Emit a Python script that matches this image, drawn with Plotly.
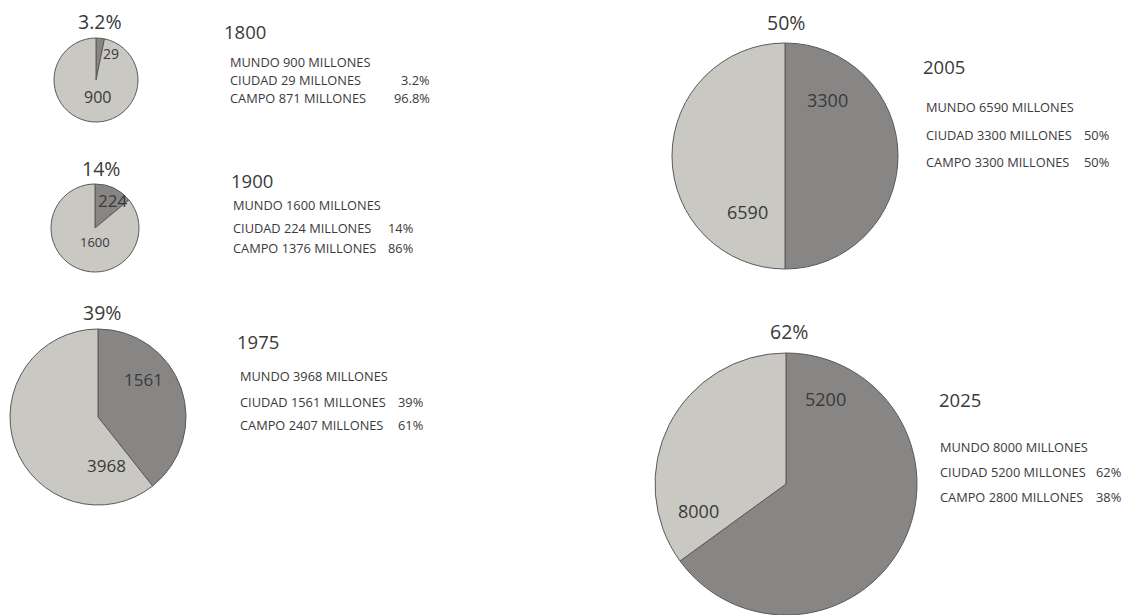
import plotly.graph_objects as go

# ---------------- data ----------------
years = ["1800", "1900", "1975", "2005", "2025"]
mundo = [900, 1600, 3968, 6590, 8000]
ciudad = [29, 224, 1561, 3300, 5200]
campo = [871, 1376, 2407, 3300, 2800]
pct_ciudad = ["3.2%", "14%", "39%", "50%", "62%"]
pct_campo = ["96.8%", "86%", "61%", "50%", "38%"]

# ---------------- layout / style (pixels) ----------------
W, H = 1128, 615
PIE_GEOM = [(96, 80, 42), (95, 228, 44), (98, 417, 88), (785, 156, 113), (786, 484, 131)]
PCT_POS = [(100, 22), (101, 168), (102, 312), (786, 23), (789, 331)]
CITY_LBL = [(111, 54), (112, 200), (143, 379), (827, 100), (825, 399)]
WORLD_LBL = [(97, 97), (95, 242), (106, 465), (747, 212), (698, 511)]
CITY_FONT = [14, 17, 17, 18, 18]
WORLD_FONT = [16, 13, 17, 18, 18]
YEAR_POS = [(222, 32), (229, 180), (235, 341), (921, 67), (937, 399)]
LINES_X = [228, 231, 238, 924, 938]
LINES_Y = [(62, 80, 98), (205, 228, 248), (376, 402, 425), (107, 135, 162), (447, 472, 497)]
PCT_RIGHT = [432, 415, 425, 1111, 1123]
LINE_FONT = 12.8

DARK = "#878685"
LIGHT = "#c9c8c3"
EDGE = "#5a5a5a"
TXT = "#3a3a3a"
FONT = "Open Sans"


def px(x):
    return x / W


def py(y):
    return 1 - y / H


fig = go.Figure()
annotations = []


def ann(x, y, text, size, xanchor="center", color=TXT):
    annotations.append(dict(
        x=px(x), y=py(y), xref="paper", yref="paper", text=text,
        showarrow=False, xanchor=xanchor, yanchor="middle",
        font=dict(family=FONT, size=size, color=color)))


for i, yr in enumerate(years):
    cx, cy, r = PIE_GEOM[i]
    fig.add_trace(go.Pie(
        values=[ciudad[i], campo[i]],
        labels=["Ciudad", "Campo"],
        sort=False, direction="clockwise", rotation=0,
        marker=dict(colors=[DARK, LIGHT], line=dict(color=EDGE, width=1)),
        textinfo="none", hoverinfo="label+value", showlegend=False,
        domain=dict(x=[px(cx - r), px(cx + r)], y=[py(cy + r), py(cy - r)]),
    ))
    # percent above the pie
    ann(PCT_POS[i][0], PCT_POS[i][1], pct_ciudad[i], 19.5)
    # slice labels
    ann(CITY_LBL[i][0], CITY_LBL[i][1], str(ciudad[i]), CITY_FONT[i])
    ann(WORLD_LBL[i][0], WORLD_LBL[i][1], str(mundo[i]), WORLD_FONT[i])
    # text block
    ann(YEAR_POS[i][0], YEAR_POS[i][1], yr, 18.5, xanchor="left")
    lx = LINES_X[i]
    l1, l2, l3 = LINES_Y[i]
    ann(lx, l1, f"MUNDO {mundo[i]} MILLONES", LINE_FONT, xanchor="left")
    ann(lx, l2, f"CIUDAD {ciudad[i]} MILLONES", LINE_FONT, xanchor="left")
    ann(lx, l3, f"CAMPO {campo[i]} MILLONES", LINE_FONT, xanchor="left")
    ann(PCT_RIGHT[i], l2, pct_ciudad[i], LINE_FONT, xanchor="right")
    ann(PCT_RIGHT[i], l3, pct_campo[i], LINE_FONT, xanchor="right")

fig.update_layout(
    width=W, height=H, autosize=False,
    margin=dict(l=0, r=0, t=0, b=0),
    paper_bgcolor="white", plot_bgcolor="white",
    annotations=annotations,
    font=dict(family=FONT, color=TXT),
)

fig.write_html("out.html")
